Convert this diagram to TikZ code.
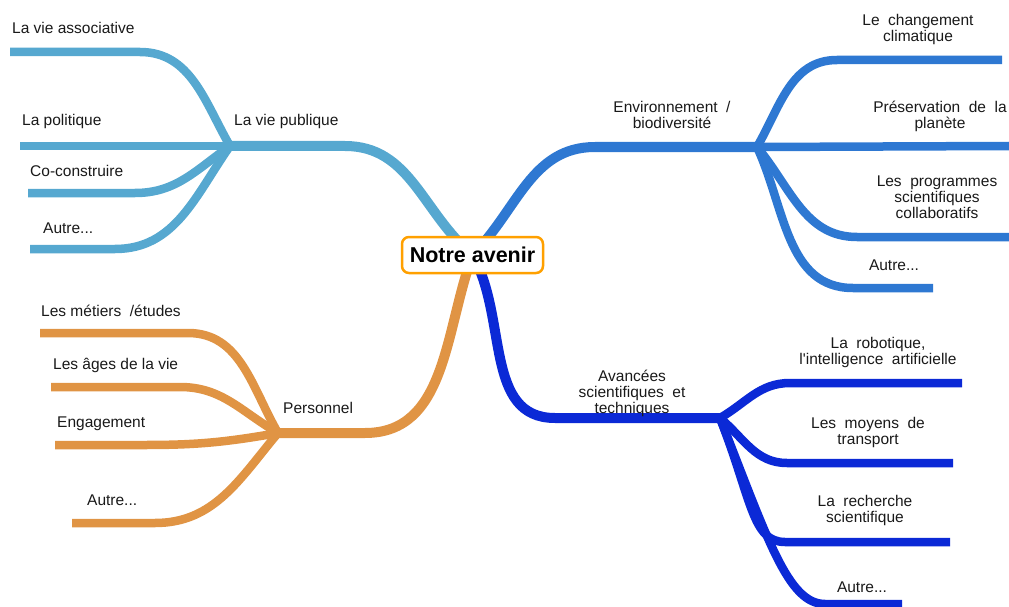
\documentclass[tikz,border=0pt]{standalone}
\usepackage{fontspec}
\setmainfont{Liberation Sans}
\definecolor{lb}{HTML}{56A8D0}
\definecolor{bl}{HTML}{2E78D2}
\definecolor{og}{HTML}{E09444}
\definecolor{db}{HTML}{0B29D6}
\definecolor{ctr}{HTML}{FFA000}
\newcommand\mywidespace{\spaceskip=0.55em plus 0.2em\relax}
\tikzset{
  br/.style={line width=8.5pt},
  mainbr/.style={line width=10pt},
  lab/.style={font=\fontsize{15.5}{16}\selectfont, inner sep=0pt, text=black!90},
  rlab/.style={lab, align=center, execute at begin node=\mywidespace},
  centre/.style={draw=ctr, line width=2.5pt, fill=white, rounded corners=7pt, minimum width=141pt, minimum height=36pt, inner sep=0pt, font=\fontsize{21.5}{24}\selectfont\bfseries}
}
\begin{document}
\begin{tikzpicture}[x=1pt,y=1pt]
\useasboundingbox (0,0) rectangle (1009,-607);
\coordinate (c) at (472.5,-255);
% light blue
\coordinate (hubA) at (230,-146);
\coordinate (a1) at (345,-146);
\coordinate (va0) at (10,-52);  \coordinate (va1) at (140,-52);
\coordinate (po0) at (20,-146);
\coordinate (co0) at (28,-193); \coordinate (co1) at (135,-193);
\coordinate (au0) at (30,-249); \coordinate (au1) at (115,-249);
\draw[mainbr,lb] (hubA) -- (a1) to[out=0,in=140] (c);
\draw[br,lb] (va0) -- (va1) to[out=0,in=120] (hubA);
\draw[br,lb] (po0) -- (hubA);
\draw[br,lb] (co0) -- (co1) to[out=0,in=215] (hubA);
\draw[br,lb] (au0) -- (au1) to[out=0,in=235] (hubA);
% blue
\coordinate (hubB) at (757,-147);
\coordinate (b1) at (595,-147);
\coordinate (cc1) at (837,-60);  \coordinate (cc2) at (1002,-60);
\coordinate (pr) at (1009,-146);
\coordinate (pg1) at (857,-237); \coordinate (pg2) at (1009,-237);
\coordinate (ab1) at (853,-288); \coordinate (ab2) at (933,-288);
\draw[mainbr,bl] (c) to[out=45,in=180] (b1) -- (hubB);
\draw[br,bl] (hubB) to[out=60,in=180] (cc1) -- (cc2);
\draw[br,bl] (hubB) -- (pr);
\draw[br,bl] (hubB) to[out=-50,in=180] (pg1) -- (pg2);
\draw[br,bl] (hubB) to[out=-65,in=180] (ab1) -- (ab2);
% orange
\coordinate (hubC) at (278,-433);
\coordinate (o1) at (365,-433);
\coordinate (me0) at (40,-333); \coordinate (me1) at (188,-333);
\coordinate (ag0) at (51,-387); \coordinate (ag1) at (180,-387);
\coordinate (en0) at (55,-445); \coordinate (en1) at (145,-445);
\coordinate (ot0) at (72,-523); \coordinate (ot1) at (155,-523);
\draw[mainbr,og] (c) to[out=-110,in=0] (o1) -- (hubC);
\draw[br,og] (me0) -- (me1) to[out=0,in=120] (hubC);
\draw[br,og] (ag0) -- (ag1) to[out=0,in=150] (hubC);
\draw[br,og] (en0) -- (en1) to[out=0,in=190] (hubC);
\draw[br,og] (ot0) -- (ot1) to[out=0,in=230] (hubC);
% dark blue
\coordinate (hubD) at (720,-418);
\coordinate (d1) at (555,-418);
\coordinate (ro1) at (790,-383); \coordinate (ro2) at (962,-383);
\coordinate (tr1) at (787,-463); \coordinate (tr2) at (953,-463);
\coordinate (re1) at (785,-542); \coordinate (re2) at (950,-542);
\coordinate (da1) at (825,-604); \coordinate (da2) at (902,-604);
\draw[mainbr,db] (c) to[out=-60,in=180] (d1) -- (hubD);
\draw[br,db] (hubD) to[out=30,in=180] (ro1) -- (ro2);
\draw[br,db] (hubD) to[out=-40,in=180] (tr1) -- (tr2);
\draw[br,db] (hubD) .. controls (752,-500) and (752,-542) .. (re1) -- (re2);
\draw[br,db] (hubD) .. controls (768,-540) and (788,-604) .. (da1) -- (da2);
% centre
\node[centre] (centre) at (c) {Notre avenir};
% left labels
\node[lab,anchor=base west] (tva) at (12,-34) {La vie associative};
\node[lab,anchor=base west] (tpo) at (22,-125) {La politique};
\node[lab,anchor=base west] (tco) at (30,-176) {Co-construire};
\node[lab,anchor=base west] (tau) at (43,-233) {Autre...};
\node[lab,anchor=base west] (tvp) at (234,-125) {La vie publique};
\node[lab,anchor=base west] (tme) at (41,-316) {Les métiers\ \ /études};
\node[lab,anchor=base west] (tag) at (53,-369) {Les âges de la vie};
\node[lab,anchor=base west] (ten) at (57,-427) {Engagement};
\node[lab,anchor=base west] (tot) at (87,-505) {Autre...};
\node[lab,anchor=base west] (tpe) at (283,-413) {Personnel};
% right labels
\node[rlab] (tcc) at (918,-29) {Le changement\\climatique};
\node[rlab] (tpr) at (940,-116) {Préservation de la\\planète};
\node[rlab] (tpg) at (937,-197) {Les programmes\\scientifiques\\collaboratifs};
\node[rlab] (tab) at (894,-265) {Autre...};
\node[rlab] (tenv) at (672,-115) {Environnement /\\biodiversité};
\node[rlab] (tro) at (878,-352) {La robotique,\\l\textquotesingle intelligence artificielle};
\node[rlab] (ttr) at (868,-432) {Les moyens de\\transport};
\node[rlab] (tre) at (865,-510) {La recherche\\scientifique};
\node[rlab] (tda) at (862,-587) {Autre...};
\node[rlab] (tav) at (632,-393) {Avancées\\scientifiques et\\techniques};
\end{tikzpicture}
\end{document}
